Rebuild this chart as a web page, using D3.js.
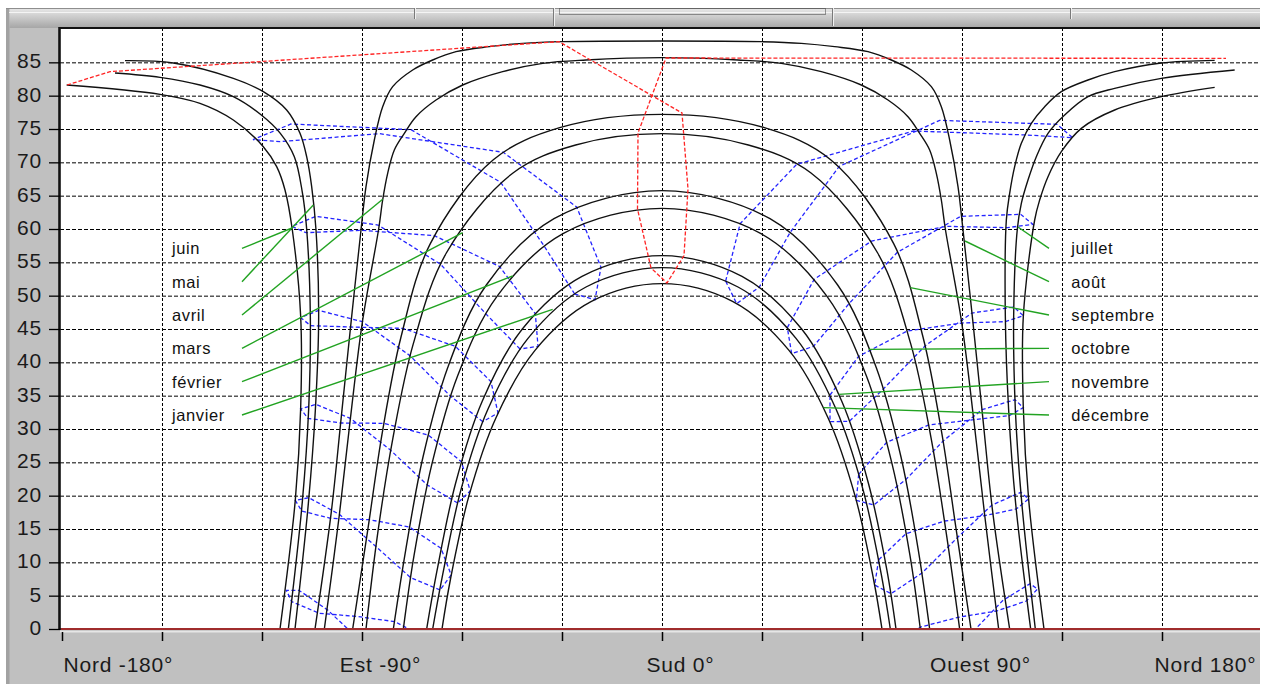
<!DOCTYPE html>
<html>
<head>
<meta charset="utf-8">
<script src="https://cdn.jsdelivr.net/npm/d3@7"></script>
<style>
  html, body { margin: 0; padding: 0; background: #ffffff; }
  svg { display: block; }
</style>
</head>
<body>
<svg id="chart" width="1267" height="684"></svg>
<script>
// ---------- Axis ticks ----------
const xTickValues = [-180, -150, -120, -90, -60, -30, 0, 30, 60, 90, 120, 150, 180];
const xTickLabels = ["Nord -180°", "", "", "Est -90°", "", "", "Sud 0°", "", "", "Ouest 90°", "", "", "Nord 180°"];
const yTickValues = [0, 5, 10, 15, 20, 25, 30, 35, 40, 45, 50, 55, 60, 65, 70, 75, 80, 85];
const xGridValues = [-150, -120, -90, -60, -30, 0, 30, 60, 90, 120, 150];

// ---------- Daily sun paths [azimuth°, elevation°] ----------
const pathJanvier = [[-68.8,0],[-65.8,8.15],[-60.2,21.1],[-52.1,33.1],[-40.2,43.6],[-22.8,51.3],[0,54.2],[22.8,51.3],[40.2,43.6],[52.1,33.1],[60.2,21.1],[65.8,8.15],[68.5,0]];
const pathFevrier = [[-77.6,0],[-74.4,11.0],[-69.0,24.8],[-61.3,38.0],[-49.5,49.9],[-29.7,59.3],[0,63.1],[29.7,59.3],[49.5,49.9],[61.3,38.0],[69.0,24.8],[74.4,11.0],[77.5,0]];
const pathMars = [[-88.8,0],[-85.3,14.3],[-80.7,28.7],[-74.6,42.8],[-64.7,56.4],[-44.7,68.4],[-25.9,72.6],[0,74.3],[25.9,72.6],[44.7,68.4],[64.7,56.4],[74.6,42.8],[80.7,28.7],[85.3,14.3],[89.3,0]];
const pathAvril = [[-101.3,0],[-96.8,17.1],[-93.5,31.5],[-89.9,46.0],[-85.0,60.0],[-83.8,64.35],[-82.3,68.35],[-80.3,71.85],[-77.3,74.35],[-73.8,76.85],[-67.8,79.35],[-59.8,81.6],[-47.8,83.6],[-35.8,84.85],[-22.8,85.35],[0,85.7],[22.8,85.35],[35.8,84.85],[47.8,83.6],[59.8,81.6],[67.8,79.35],[73.8,76.85],[77.3,74.35],[80.3,71.85],[82.3,68.35],[83.8,64.35],[85.0,60.0],[89.9,46.0],[93.5,31.5],[96.8,17.1],[101.0,0]];
const pathMai = [[-110.1,0],[-106.1,18.8],[-104.0,32.8],[-103.0,46.9],[-103.8,59.85],[-105.1,66.35],[-106.6,70.85],[-108.6,74.35],[-112.6,77.85],[-119.6,80.6],[-128.6,82.6],[-146.6,84.9],[-161.1,85.25],
                 [165.8,85.3],[149.8,84.9],[135.8,83.6],[127.8,82.35],[119.8,80.6],[114.8,78.35],[110.8,75.85],[107.8,72.85],[105.8,69.35],[104.3,65.35],[103.3,61.35],[103.0,46.9],[104.0,32.8],[106.1,18.8],[110.6,0]];
const pathJuin = [[-114.6,0],[-110.0,19.4],[-108.4,33.1],[-108.4,46.9],[-110.9,59.85],[-113.1,65.85],[-115.6,69.35],[-119.6,72.35],[-128.6,76.35],[-138.6,78.85],[-150.6,80.2],[-178.6,81.6],
                  [165.8,81.25],[149.8,79.85],[135.8,77.85],[125.8,75.1],[119.8,71.6],[115.8,67.85],[113.3,64.35],[111.8,61.35],[108.4,46.9],[108.4,33.1],[110.0,19.4],[114.6,0]];
const pathJuillet = [[-112.1,0],[-107.9,19.1],[-106.0,33.0],[-105.5,46.9],[-106.6,60.0],[-107.9,65.5],[-110.3,70.85],[-114.5,74.35],[-120.2,77.1],[-128.6,79.85],[-138.6,81.6],[-150.6,82.75],[-164.1,83.4],
                     [171.8,83.85],[149.8,82.6],[135.8,81.1],[127.8,79.85],[120.8,77.1],[115.8,74.35],[112.3,70.85],[109.8,67.35],[107.8,63.85],[106.6,60.0],[105.5,46.9],[106.0,33.0],[107.9,19.1],[112.0,0]];
const pathAout = [[-104.1,0],[-99.2,17.6],[-96.2,31.9],[-93.2,46.4],[-90.3,59.85],[-88.8,66.35],[-86.3,73.35],[-83.8,78.35],[-80.8,81.35],[-74.8,83.85],[-68.8,85.35],[-61.8,86.6],[-51.8,87.35],[-41.8,87.85],[-29.8,88.1],[0,88.2],[29.8,88.1],[41.8,87.85],[51.8,87.35],[61.8,86.6],[68.8,85.35],[74.8,83.85],[80.8,81.35],[83.8,78.35],[86.3,73.35],[88.8,66.35],[90.3,59.85],[93.2,46.4],[96.2,31.9],[99.2,17.6],[104.3,0]];
const pathSeptembre = [[-92.8,0],[-88.2,15.1],[-83.9,29.5],[-78.3,43.8],[-69.5,57.8],[-50.6,70.4],[-30.7,75.2],[0,77.2],[30.7,75.2],[50.6,70.4],[69.5,57.8],[78.3,43.8],[83.9,29.5],[88.2,15.1],[92.7,0]];
const pathOctobre = [[-80.6,0],[-76.9,11.8],[-71.7,25.8],[-64.3,39.2],[-52.7,51.6],[-32.4,61.55],[0,65.75],[32.4,61.55],[52.7,51.6],[64.3,39.2],[71.7,25.8],[76.9,11.8],[80.3,0]];
const pathNovembre = [[-70.6,0],[-67.5,8.75],[-61.9,21.9],[-53.9,34.2],[-41.9,45.0],[-24.0,52.9],[0,56.0],[24.0,52.9],[41.9,45.0],[53.9,34.2],[61.9,21.9],[67.5,8.75],[70.2,0]];
const pathDecembre = [[-66.0,0],[-63.5,7.35],[-57.9,20.0],[-49.8,31.7],[-38.1,41.8],[-21.3,49.1],[0,51.8],[21.3,49.1],[38.1,41.8],[49.8,31.7],[57.9,20.0],[63.5,7.35],[66.0,0]];

// ---------- Sun position at each hour, janvier → décembre ----------
const hour06 = [[-70.4,-7.6],[-79.4,-6.4],[-89.8,-2.1],[-100.3,2.85],[-108.9,5.8],[-112.7,5.8],[-111.1,4.1],[-102.8,2.35],[-91.8,1.9],[-80.1,1.1],[-70.7,-1.4],[-67.3,-5.05]];
const hour07 = [[-66.6,5.85],[-75.4,7.7],[-85.9,12.4],[-96.8,17.2],[-106.0,19.7],[-110.0,19.3],[-108.1,17.7],[-99.4,16.6],[-87.85,16.4],[-75.8,15.3],[-66.3,12.1],[-63.25,8.1]];
const hour08 = [[-61.3,18.9],[-70.4,21.6],[-81.4,26.8],[-93.5,31.6],[-103.9,33.7],[-108.4,33.0],[-106.2,31.6],[-96.4,30.9],[-83.5,30.85],[-70.1,29.1],[-60.2,25.1],[-57.5,20.7]];
const hour09 = [[-53.75,31.1],[-63.4,34.9],[-75.6,41.0],[-89.9,46.1],[-103.0,47.8],[-108.4,46.7],[-105.4,45.5],[-93.45,45.3],[-77.7,45.1],[-62.0,42.4],[-51.3,37.1],[-49.2,32.4]];
const hour10 = [[-42.6,42.0],[-52.8,47.25],[-66.4,54.7],[-85.2,60.6],[-103.8,61.9],[-111.1,60.4],[-106.8,59.45],[-90.1,59.8],[-68.3,59.0],[-48.8,54.4],[-38.0,47.3],[-37.2,42.4]];
const hour11 = [[-26.2,50.25],[-35.3,57.4],[-48.4,67.0],[-75.3,74.9],[-111.3,75.75],[-122.7,73.4],[-114.6,73.1],[-84.7,74.3],[-47.6,71.5],[-25.6,63.3],[-18.3,54.25],[-20.1,49.4]];
const hour12 = [[-3.3,54.15],[-7.35,63.0],[-7.2,74.4],[1.2,85.65],[169.2,85.6],[-178.5,81.6],[-165.6,83.6],[-30.9,88.1],[6.0,77.4],[7.8,66.0],[6.6,56.0],[1.5,51.9]];
const hour13 = [[19.1,52.2],[23.45,60.8],[40.4,69.7],[75.5,74.7],[109.5,74.1],[123.2,73.7],[118.5,75.7],[83.3,76.3],[53.2,69.4],[38.45,59.5],[29.2,51.3],[22.4,48.8]];
const hour14 = [[37.6,45.2],[45.65,52.45],[62.9,58.2],[85.3,60.4],[103.6,60.2],[111.25,60.7],[107.6,62.2],[89.6,61.9],[70.6,56.5],[56.1,48.8],[45.45,42.4],[38.9,41.3]];
const hour15 = [[50.4,35.1],[59.0,40.9],[73.6,44.7],[90.0,45.9],[103.0,46.1],[108.4,47.0],[105.5,48.3],[93.0,47.4],[79.0,42.5],[66.4,36.0],[56.2,31.15],[50.4,31.1]];
const hour16 = [[59.0,23.2],[67.4,28.0],[80.0,30.6],[93.5,31.4],[104.1,32.0],[108.4,33.2],[105.9,34.4],[96.0,32.9],[84.35,28.2],[73.1,22.4],[63.5,18.6],[58.3,19.3]];
const hour17 = [[65.0,10.4],[73.2,14.3],[84.8,16.2],[96.8,17.0],[106.3,18.0],[109.95,19.5],[107.65,20.5],[99.0,18.6],[88.6,13.7],[78.0,8.4],[68.7,5.3],[63.8,6.6]];
const hour18 = [[69.2,-2.9],[77.6,0.3],[88.8,1.75],[100.4,2.7],[109.3,4.2],[112.65,6.0],[110.4,6.8],[102.3,4.3],[92.5,-0.8],[82.0,-5.9],[72.5,-8.3],[67.7,-6.7]];

// ---------- Month captions and the point each leader reaches ----------
const leftLabels = ["juin", "mai", "avril", "mars", "février", "janvier"];
const leftTargets = [[-111.0,60.15],[-104.6,63.6],[-83.8,64.45],[-59.8,59.45],[-44.8,52.95],[-32.8,47.95]];
const rightLabels = ["juillet", "août", "septembre", "octobre", "novembre", "décembre"];
const rightTargets = [[106.8,60.3],[90.9,58.2],[74.5,51.2],[62.0,41.95],[53.0,35.2],[48.5,33.2]];

// ---------- Layout ----------
const FONT = "'Liberation Sans', Arial, Helvetica, sans-serif";
const plotLeft = 60, plotRight = 1260, plotTop = 28, plotBottom = 629;
const x = d3.scaleLinear().domain([-180, 180]).range([62, 1262]);
const y = d3.scaleLinear().domain([0, 90]).range([629, 29]);

const svg = d3.select("#chart");
const defs = svg.append("defs");
defs.append("clipPath").attr("id", "panelClip")
  .append("rect").attr("x", 0).attr("y", 0).attr("width", 1260).attr("height", 684);
defs.append("clipPath").attr("id", "plotClip")
  .append("rect").attr("x", plotLeft + 1).attr("y", plotTop + 1)
  .attr("width", plotRight - plotLeft - 1).attr("height", plotBottom - plotTop - 1);
const grad = defs.append("linearGradient").attr("id", "chromeGrad")
  .attr("x1", 0).attr("y1", 0).attr("x2", 0).attr("y2", 1);
grad.append("stop").attr("offset", "0%").attr("stop-color", "#e9e9e9");
grad.append("stop").attr("offset", "35%").attr("stop-color", "#d2d2d2");
grad.append("stop").attr("offset", "100%").attr("stop-color", "#a6a6a6");

const root = svg.append("g").attr("clip-path", "url(#panelClip)");

// window panel
root.append("rect").attr("x", 6).attr("y", 8).attr("width", 1260).attr("height", 684)
  .attr("fill", "#c0c0c0");
root.append("rect").attr("x", 6).attr("y", 8).attr("width", 3.5).attr("height", 684)
  .attr("fill", "#a2a2a2");
root.append("rect").attr("x", 9.5).attr("y", 8).attr("width", 1260).attr("height", 20)
  .attr("fill", "url(#chromeGrad)");
root.append("line").attr("x1", 6).attr("x2", 1260).attr("y1", 8.5).attr("y2", 8.5)
  .attr("stroke", "#8e8e8e").attr("stroke-width", 1);
root.append("line").attr("x1", 9).attr("x2", 1260).attr("y1", 12.5).attr("y2", 12.5)
  .attr("stroke", "#f4f4f4").attr("stroke-width", 1);
[[414, 11], [553, 18], [832, 18], [1070, 11]].forEach(([sx, len]) => {
  root.append("line").attr("x1", sx + 0.5).attr("x2", sx + 0.5).attr("y1", 8).attr("y2", 8 + len)
    .attr("stroke", "#7a7a7a").attr("stroke-width", 1);
  root.append("line").attr("x1", sx + 1.5).attr("x2", sx + 1.5).attr("y1", 8).attr("y2", 8 + len)
    .attr("stroke", "#f0f0f0").attr("stroke-width", 1);
});
root.append("rect").attr("x", 559.5).attr("y", 8.5).attr("width", 266).attr("height", 6)
  .attr("fill", "none").attr("stroke", "#3a3a3a").attr("stroke-width", 1)
  .attr("stroke-dasharray", "1,1");

// plot background
root.append("rect").attr("x", plotLeft).attr("y", plotTop)
  .attr("width", plotRight - plotLeft).attr("height", plotBottom - plotTop)
  .attr("fill", "#ffffff");

// grid
const grid = root.append("g");
grid.selectAll("line.hgrid").data(yTickValues.filter(v => v > 0)).enter().append("line")
  .attr("x1", plotLeft).attr("x2", plotRight)
  .attr("y1", d => y(d) + 0.5).attr("y2", d => y(d) + 0.5)
  .attr("stroke", "#000").attr("stroke-width", 1).attr("stroke-dasharray", "4,2");
grid.selectAll("line.vgrid").data(xGridValues).enter().append("line")
  .attr("x1", d => x(d) + 0.5).attr("x2", d => x(d) + 0.5)
  .attr("y1", plotTop).attr("y2", plotBottom)
  .attr("stroke", "#000").attr("stroke-width", 1).attr("stroke-dasharray", "3,2");

const marks = root.append("g").attr("clip-path", "url(#plotClip)");

// split a sequence wherever it wraps across north (±180°)
function splitWrap(pts) {
  const segs = [[pts[0]]];
  for (let i = 1; i < pts.length; i++) {
    if (Math.abs(pts[i][0] - pts[i - 1][0]) > 180) segs.push([]);
    segs[segs.length - 1].push(pts[i]);
  }
  return segs.filter(s => s.length > 1);
}
const smoothLine = d3.line().x(d => x(d[0])).y(d => y(d[1])).curve(d3.curveCatmullRom.alpha(0.5));
const straightLine = d3.line().x(d => x(d[0])).y(d => y(d[1]));

// hour lines (closed over the year)
const hourLines = [hour06, hour07, hour08, hour09, hour10, hour11, hour13, hour14, hour15, hour16, hour17, hour18];
hourLines.forEach(h => {
  splitWrap(h.concat([h[0]])).forEach(seg => {
    marks.append("path").attr("d", straightLine(seg))
      .attr("fill", "none").attr("stroke", "#2424ff").attr("stroke-width", 1.3)
      .attr("stroke-dasharray", "4,2.5");
  });
});

// daily paths
const dayPaths = [pathJanvier, pathFevrier, pathMars, pathAvril, pathMai, pathJuin,
                  pathJuillet, pathAout, pathSeptembre, pathOctobre, pathNovembre, pathDecembre];
dayPaths.forEach(p => {
  splitWrap(p).forEach(seg => {
    marks.append("path").attr("d", smoothLine(seg))
      .attr("fill", "none").attr("stroke", "#111").attr("stroke-width", 1.4);
  });
});

// 12:00 line
splitWrap(hour12.concat([hour12[0]])).forEach(seg => {
  marks.append("path").attr("d", straightLine(seg))
    .attr("fill", "none").attr("stroke", "#ff2424").attr("stroke-width", 1.3)
    .attr("stroke-dasharray", "4,2");
});

// month captions with leaders
const labelFirstElev = 57.1, labelStep = 5;
const leftLeadX = x(-126), leftTextX = x(-147);
const rightLeadX = x(116.1), rightTextX = x(122.8);
const ann = root.append("g");
function drawCaptions(labels, targets, leadX, textX) {
  labels.forEach((name, i) => {
    const cy = y(labelFirstElev - labelStep * i);
    ann.append("line")
      .attr("x1", leadX).attr("y1", cy)
      .attr("x2", x(targets[i][0])).attr("y2", y(targets[i][1]))
      .attr("stroke", "#22a322").attr("stroke-width", 1.4);
    ann.append("text").attr("x", textX).attr("y", cy).attr("dy", "0.36em")
      .attr("font-family", FONT).attr("font-size", 16.5).attr("fill", "#111")
      .style("letter-spacing", "0.6px").text(name);
  });
}
drawCaptions(leftLabels, leftTargets, leftLeadX, leftTextX);
drawCaptions(rightLabels, rightTargets, rightLeadX, rightTextX);

// horizon line and bevel
root.append("line").attr("x1", plotLeft).attr("x2", plotRight).attr("y1", 631.6).attr("y2", 631.6)
  .attr("stroke", "#e6e6e6").attr("stroke-width", 1.6);
root.append("line").attr("x1", plotLeft).attr("x2", plotRight).attr("y1", y(0)).attr("y2", y(0))
  .attr("stroke", "#a02c2c").attr("stroke-width", 2.2);

// plot border
root.append("line").attr("x1", plotLeft - 0.5).attr("x2", plotLeft - 0.5).attr("y1", plotTop - 1).attr("y2", plotBottom + 1)
  .attr("stroke", "#111").attr("stroke-width", 2.6);
root.append("line").attr("x1", plotLeft - 1).attr("x2", plotRight).attr("y1", plotTop).attr("y2", plotTop)
  .attr("stroke", "#111").attr("stroke-width", 2.2);

// axes
const yAxis = d3.axisLeft(y).tickValues(yTickValues).tickSize(11).tickPadding(7).tickFormat(d3.format("d"));
const gy = root.append("g").attr("transform", `translate(${plotLeft},0)`).call(yAxis);
gy.attr("font-family", FONT).attr("font-size", 21);
gy.select(".domain").remove();
gy.selectAll(".tick line").attr("stroke", "#000").attr("stroke-width", 1.3);
gy.selectAll(".tick text").attr("dy", 5.5).attr("fill", "#1a1a1a").style("letter-spacing", "0.8px");

const xAxis = d3.axisBottom(x).tickValues(xTickValues).tickSize(12).tickFormat((d, i) => xTickLabels[i]);
const gx = root.append("g").attr("transform", `translate(0,${plotBottom})`).call(xAxis);
gx.attr("font-family", FONT).attr("font-size", 21);
gx.select(".domain").remove();
gx.selectAll(".tick line").attr("y1", 3).attr("stroke", "#000").attr("stroke-width", 1.5);
gx.selectAll(".tick text")
  .attr("y", 43).attr("dy", 0).attr("fill", "#1a1a1a").style("letter-spacing", "0.8px")
  .attr("x", 18)
  .attr("text-anchor", "middle");
gx.selectAll(".tick text").filter((d, i) => i === 0).attr("x", 1).attr("text-anchor", "start");
gx.selectAll(".tick text").filter((d, i) => i === xTickValues.length - 1).attr("x", -6).attr("text-anchor", "end");
</script>
</body>
</html>
